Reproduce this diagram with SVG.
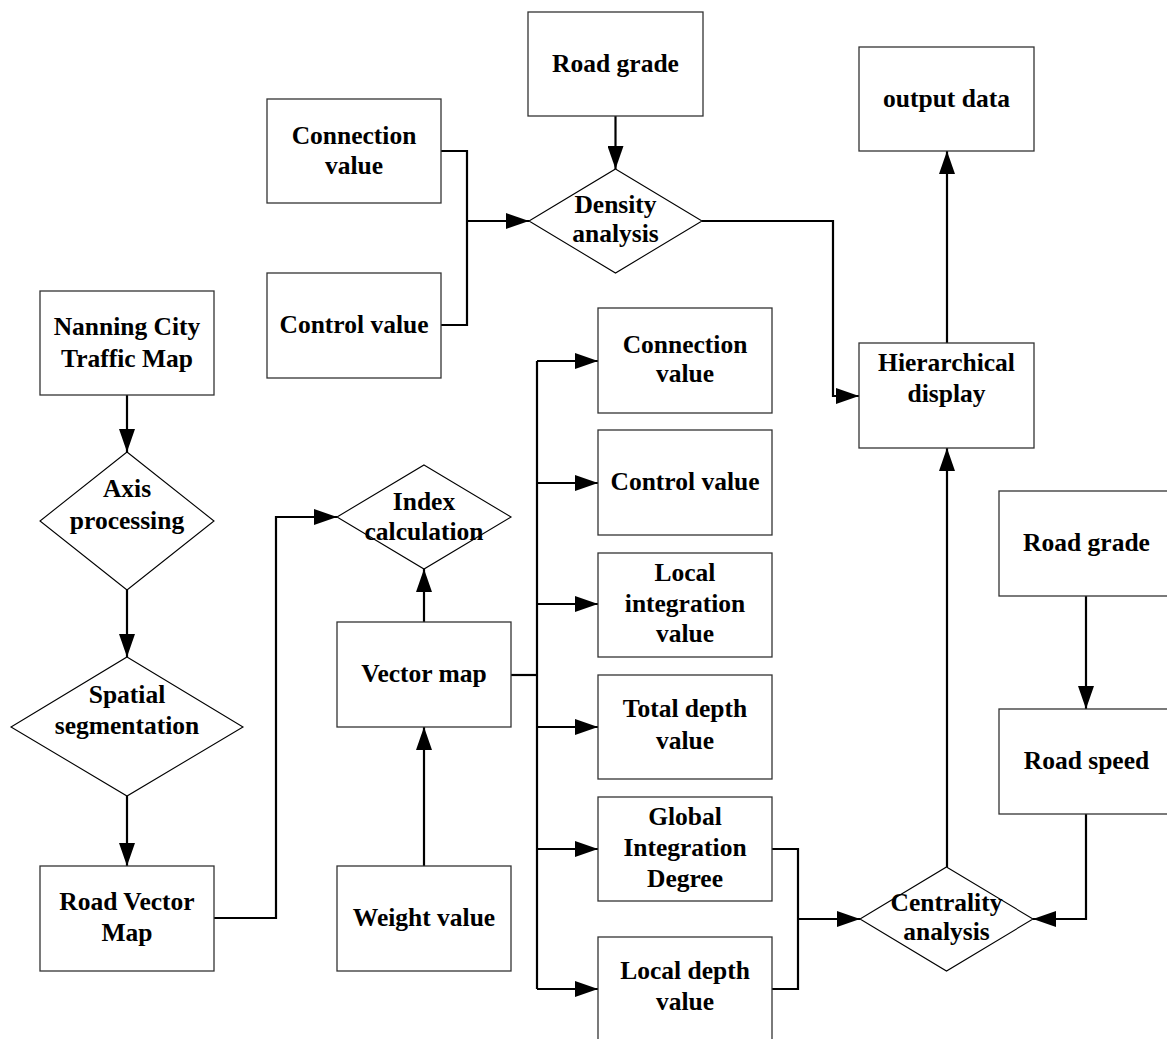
<svg xmlns="http://www.w3.org/2000/svg" width="1167" height="1039" viewBox="0 0 1167 1039">
<style>
.box{fill:#fff;stroke:#333;stroke-width:1.3}
.dia{fill:#fff;stroke:#000;stroke-width:1.1}
.t{font-family:"Liberation Serif","Times New Roman",serif;font-weight:bold;font-size:25.5px;text-anchor:middle;fill:#000}
.c{fill:none;stroke:#000;stroke-width:2.2}
</style>
<defs>
<marker id="ah" markerUnits="userSpaceOnUse" markerWidth="24" markerHeight="16" refX="23" refY="8" orient="auto">
<path d="M0,0 L23,8 L0,16 z" fill="#000"/>
</marker>
</defs>
<rect width="1167" height="1039" fill="#fff"/>
<g id="connectors">
<path class="c" d="M615.5,116 V169" marker-end="url(#ah)"/>
<path class="c" d="M441,151 H467 V325 H441"/>
<path class="c" d="M467,221 H529" marker-end="url(#ah)"/>
<path class="c" d="M702,221 H833 V396 H859" marker-end="url(#ah)"/>
<path class="c" d="M947,343 V151" marker-end="url(#ah)"/>
<path class="c" d="M947,867 V448" marker-end="url(#ah)"/>
<path class="c" d="M1086,596 V709" marker-end="url(#ah)"/>
<path class="c" d="M1086,814 V919 H1033" marker-end="url(#ah)"/>
<path class="c" d="M772,849 H798 V989 H772"/>
<path class="c" d="M798,919 H860" marker-end="url(#ah)"/>
<path class="c" d="M511,675 H537"/>
<path class="c" d="M537,361 V989"/>
<path class="c" d="M537,361 H598" marker-end="url(#ah)"/>
<path class="c" d="M537,483 H598" marker-end="url(#ah)"/>
<path class="c" d="M537,604 H598" marker-end="url(#ah)"/>
<path class="c" d="M537,727 H598" marker-end="url(#ah)"/>
<path class="c" d="M537,849 H598" marker-end="url(#ah)"/>
<path class="c" d="M537,989 H598" marker-end="url(#ah)"/>
<path class="c" d="M424,622 V569" marker-end="url(#ah)"/>
<path class="c" d="M424,866 V727" marker-end="url(#ah)"/>
<path class="c" d="M214,918 H276 V517 H337" marker-end="url(#ah)"/>
<path class="c" d="M127,395 V452" marker-end="url(#ah)"/>
<path class="c" d="M127,590 V657" marker-end="url(#ah)"/>
<path class="c" d="M127,796 V866" marker-end="url(#ah)"/>
</g>
<g id="road-grade-top"><rect class="box" x="528" y="12" width="175" height="104"/><text class="t" x="615.5" y="72">Road grade</text></g>
<g id="connection-value-top"><rect class="box" x="267" y="99" width="174" height="104"/><text class="t" x="354" y="144">Connection</text><text class="t" x="354" y="174">value</text></g>
<g id="control-value-top"><rect class="box" x="267" y="273" width="174" height="105"/><text class="t" x="354" y="333">Control value</text></g>
<g id="density-analysis"><polygon class="dia" points="615.5,169 702,221 615.5,273 529,221"/><text class="t" x="615.5" y="213">Density</text><text class="t" x="615.5" y="242">analysis</text></g>
<g id="output-data"><rect class="box" x="859" y="47" width="175" height="104"/><text class="t" x="946.5" y="107">output data</text></g>
<g id="hierarchical-display"><rect class="box" x="859" y="343" width="175" height="105"/><text class="t" x="946.5" y="371">Hierarchical</text><text class="t" x="946.5" y="402">display</text></g>
<g id="nanning-map"><rect class="box" x="40" y="291" width="174" height="104"/><text class="t" x="127" y="335">Nanning City</text><text class="t" x="127" y="367">Traffic Map</text></g>
<g id="axis-processing"><polygon class="dia" points="127,452 214,521 127,590 40,521"/><text class="t" x="127" y="497">Axis</text><text class="t" x="127" y="529">processing</text></g>
<g id="spatial-segmentation"><polygon class="dia" points="127,657 243,727 127,796 11,727"/><text class="t" x="127" y="703">Spatial</text><text class="t" x="127" y="734">segmentation</text></g>
<g id="road-vector-map"><rect class="box" x="40" y="866" width="174" height="105"/><text class="t" x="127" y="910">Road Vector</text><text class="t" x="127" y="941">Map</text></g>
<g id="index-calculation"><polygon class="dia" points="424,465 511,517 424,569 337,517"/><text class="t" x="424" y="510">Index</text><text class="t" x="424" y="540">calculation</text></g>
<g id="vector-map"><rect class="box" x="337" y="622" width="174" height="105"/><text class="t" x="424" y="682">Vector map</text></g>
<g id="weight-value"><rect class="box" x="337" y="866" width="174" height="105"/><text class="t" x="424" y="926">Weight value</text></g>
<g id="connection-value"><rect class="box" x="598" y="308" width="174" height="105"/><text class="t" x="685" y="353">Connection</text><text class="t" x="685" y="382">value</text></g>
<g id="control-value"><rect class="box" x="598" y="430" width="174" height="105"/><text class="t" x="685" y="490">Control value</text></g>
<g id="local-integration"><rect class="box" x="598" y="553" width="174" height="104"/><text class="t" x="685" y="581">Local</text><text class="t" x="685" y="612">integration</text><text class="t" x="685" y="642">value</text></g>
<g id="total-depth"><rect class="box" x="598" y="675" width="174" height="104"/><text class="t" x="685" y="717">Total depth</text><text class="t" x="685" y="749">value</text></g>
<g id="global-integration"><rect class="box" x="598" y="797" width="174" height="104"/><text class="t" x="685" y="825">Global</text><text class="t" x="685" y="856">Integration</text><text class="t" x="685" y="887">Degree</text></g>
<g id="local-depth"><rect class="box" x="598" y="937" width="174" height="105"/><text class="t" x="685" y="979">Local depth</text><text class="t" x="685" y="1010">value</text></g>
<g id="road-grade-right"><rect class="box" x="999" y="491" width="175" height="105"/><text class="t" x="1086.5" y="551">Road grade</text></g>
<g id="road-speed"><rect class="box" x="999" y="709" width="175" height="105"/><text class="t" x="1086.5" y="769">Road speed</text></g>
<g id="centrality-analysis"><polygon class="dia" points="946.5,867 1033,919 946.5,971 860,919"/><text class="t" x="946.5" y="911">Centrality</text><text class="t" x="946.5" y="940">analysis</text></g>
</svg>
